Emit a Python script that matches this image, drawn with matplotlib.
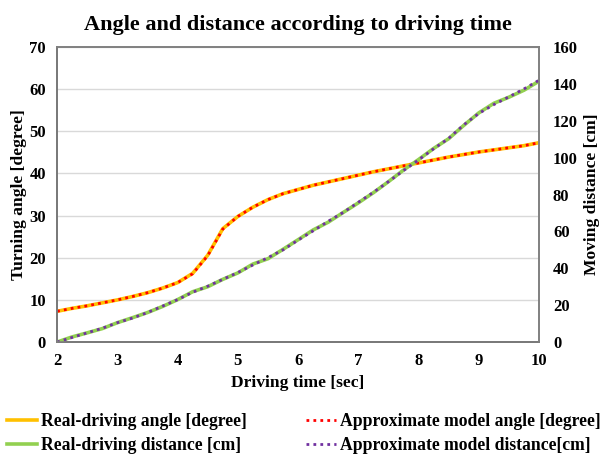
import matplotlib
matplotlib.use('Agg')
import matplotlib.pyplot as plt
import numpy as np

plt.rcParams.update({
    'font.family': 'Liberation Serif',
    'font.weight': 'bold',
    'font.size': 12,
})

time_sec = [2.0, 2.25, 2.5, 2.75, 3.0, 3.25, 3.5, 3.75, 4.0, 4.25, 4.5, 4.75,
            5.0, 5.25, 5.5, 5.75, 6.0, 6.25, 6.5, 6.75, 7.0, 7.25, 7.5, 7.75,
            8.0, 8.25, 8.5, 8.75, 9.0, 9.25, 9.5, 9.75, 10.0]

real_angle = [7.3, 8.0, 8.6, 9.3, 10.0, 10.8, 11.7, 12.8, 14.1, 16.3, 20.6, 26.9,
              29.8, 32.0, 33.8, 35.2, 36.2, 37.2, 38.0, 38.8, 39.6, 40.4, 41.1, 41.8,
              42.5, 43.2, 43.9, 44.5, 45.1, 45.6, 46.1, 46.6, 47.3]
model_angle = [7.3, 8.0, 8.6, 9.3, 10.0, 10.8, 11.7, 12.8, 14.1, 16.2, 20.5, 26.8,
               29.8, 32.0, 33.8, 35.2, 36.2, 37.2, 38.0, 38.8, 39.6, 40.4, 41.1, 41.8,
               42.5, 43.2, 43.9, 44.5, 45.1, 45.6, 46.1, 46.6, 47.3]

real_dist = [0.0, 2.8, 5.0, 7.3, 10.5, 13.2, 16.0, 19.3, 23.0, 27.3, 30.0, 34.0,
             37.5, 42.3, 45.2, 50.3, 55.5, 60.8, 65.0, 70.3, 75.5, 81.0, 87.0, 93.3,
             99.0, 105.0, 110.3, 117.5, 124.3, 129.5, 132.8, 136.6, 141.5]
model_dist = [0.0, 2.5, 5.0, 7.5, 10.5, 13.0, 16.0, 19.5, 23.0, 27.0, 30.3, 34.0,
              37.7, 41.8, 45.8, 50.0, 55.3, 60.3, 65.5, 70.3, 75.8, 81.2, 87.0, 93.0,
              98.8, 104.8, 110.5, 117.8, 124.0, 128.8, 133.0, 137.3, 142.0]

fig = plt.figure(figsize=(6.01, 4.61), dpi=100)
ax = fig.add_axes([0.095, 0.258, 0.802, 0.640])
ax2 = ax.twinx()

l1, = ax.plot(time_sec, real_angle, color='#FFC000', lw=2.6, label='Real-driving angle [degree]')
l3, = ax2.plot(time_sec, real_dist, color='#92D050', lw=2.6, label='Real-driving distance [cm]')
l2, = ax.plot(time_sec, model_angle, color='#FF0000', lw=2.0, ls=(0, (1, 1.5)),
              label='Approximate model angle [degree]')
l4, = ax2.plot(time_sec, model_dist, color='#7030A0', lw=2.0, ls=(0, (1, 1.5)),
               label='Approximate model distance[cm]')

ax.set_xlim(2, 10)
ax.set_ylim(0, 70)
ax2.set_ylim(0, 160)
ax.set_xticks(range(2, 11))
ax.set_yticks(range(0, 71, 10))
ax2.set_yticks(range(0, 161, 20))
ax.yaxis.grid(True, color='#D9D9D9', lw=1)
ax.set_axisbelow(True)
ax.tick_params(length=0, labelsize=12, pad=8)
ax2.tick_params(length=0, labelsize=12, pad=10)
for a in (ax, ax2):
    for s in a.spines.values():
        s.set_color('#808080')
        s.set_linewidth(1.2)
ax.spines['left'].set_color('#404040')
ax.spines['bottom'].set_color('#404040')

ax.set_xlabel('Driving time [sec]', fontsize=12.6, fontweight='bold', labelpad=4)
ax.set_ylabel('Turning angle [degree]', fontsize=12.6, fontweight='bold', labelpad=2)
ax2.set_ylabel('Moving distance [cm]', fontsize=12.6, fontweight='bold', labelpad=4)
ax.set_title('Angle and distance according to driving time', fontsize=16,
             fontweight='bold', pad=12)

fig.legend(handles=[l1, l3, l2, l4], loc='lower left', bbox_to_anchor=(0.0, 0.0),
           ncol=2, frameon=False, fontsize=12.7, handlelength=1.7, handletextpad=0.2,
           columnspacing=3.4, labelspacing=0.4, borderaxespad=0.0)

fig.savefig('out.png', dpi=100)
